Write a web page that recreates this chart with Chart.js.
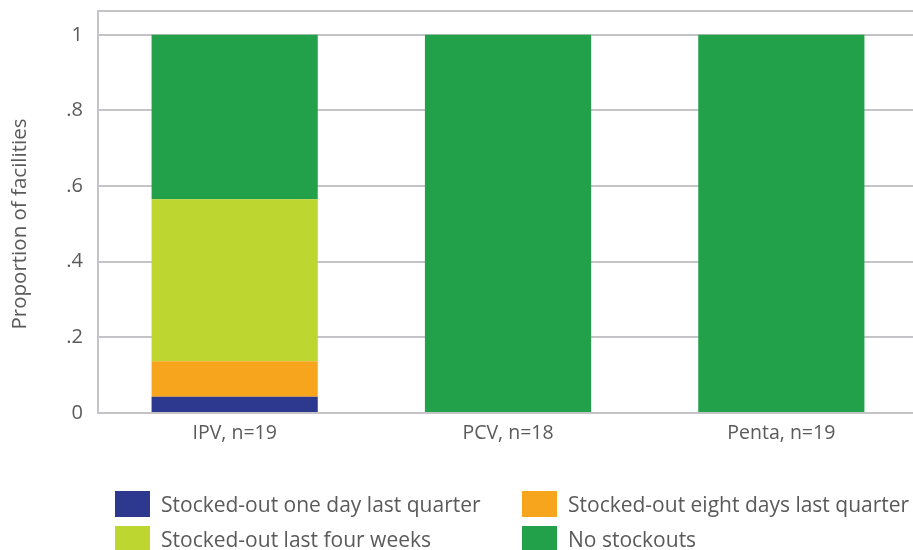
<!DOCTYPE html>
<html><head><meta charset="utf-8">
<script src="https://cdn.jsdelivr.net/npm/chart.js@4"></script>
<style>
html,body{margin:0;padding:0;overflow:hidden;background:#fff;width:913px;height:550px;}
#wrap{position:relative;width:913px;height:550px;overflow:hidden;}
canvas{position:absolute;left:0;top:-16px;}
.lg{position:absolute;display:flex;align-items:center;font-family:'Open Sans',sans-serif;font-weight:400;font-size:21px;color:#5a5a5a;white-space:nowrap;}
.lg span.b{display:inline-block;width:35px;height:26px;margin-right:11px;}
</style></head>
<body><div id="wrap"><canvas id="c" width="918" height="566"></canvas></div>
<script>
const categories = ['IPV, n=19', 'PCV, n=18', 'Penta, n=19'];
const seriesNames = ['Stocked-out one day last quarter', 'Stocked-out eight days last quarter', 'Stocked-out last four weeks', 'No stockouts'];
const oneDayLastQuarter = [0.043, 0, 0];
const eightDaysLastQuarter = [0.094, 0, 0];
const lastFourWeeks = [0.428, 0, 0];
const noStockouts = [0.435, 1, 1];
const yTickValues = [0, 0.2, 0.4, 0.6, 0.8, 1];
const yTickLabels = ['0', '.2', '.4', '.6', '.8', '1'];
const yTitle = 'Proportion of facilities';
const colors = ['#2D398E', '#F7A51D', '#BED630', '#23A14A'];

const seriesValues = [oneDayLastQuarter, eightDaysLastQuarter, lastFourWeeks, noStockouts];
const textColor = '#5a5a5a';
const font = {family: "'Open Sans', sans-serif", size: 19.5, weight: '400'};
const tickFont = {family: "'Open Sans', sans-serif", size: 20, weight: '400'};

const yTitlePlugin = {
  id: 'yTitle',
  afterDraw(chart) {
    const ctx = chart.ctx;
    const y = chart.scales.y;
    ctx.save();
    ctx.fillStyle = textColor;
    ctx.font = "400 20.5px 'Open Sans', sans-serif";
    ctx.textAlign = 'center';
    ctx.textBaseline = 'middle';
    ctx.translate(20, (y.top + y.bottom) / 2 + 12);
    ctx.rotate(-Math.PI / 2);
    ctx.fillText(yTitle, 0, 0);
    ctx.restore();
  }
};

new Chart(document.getElementById('c'), {
  type: 'bar',
  data: {
    labels: categories,
    datasets: seriesNames.map((n, i) => ({
      label: n, data: seriesValues[i], backgroundColor: colors[i], borderWidth: 0,
      barPercentage: 0.608, categoryPercentage: 1
    }))
  },
  plugins: [yTitlePlugin],
  options: {
    responsive: false, animation: false,
    layout: {padding: {top: 0, right: 0, bottom: 0, left: 0}},
    plugins: {legend: {display: false}, tooltip: {enabled: false}},
    scales: {
      x: {
        stacked: true,
        grid: {display: false, drawTicks: false},
        border: {display: true, color: '#C4C4C8', width: 2},
        ticks: {color: textColor, font: font, padding: 9},
        afterFit: s => { s.height = 137; }
      },
      y: {
        stacked: true, min: 0, max: 1.063,
        afterBuildTicks: s => { s.ticks = yTickValues.map(v => ({value: v})).concat([{value: 1.063}]); },
        ticks: {
          color: textColor, font: tickFont, padding: 15,
          callback: (v) => { const i = yTickValues.findIndex(t => Math.abs(t - v) < 1e-6); return i >= 0 ? yTickLabels[i] : ''; }
        },
        grid: {color: '#C4C4C8', lineWidth: 2, drawTicks: false},
        border: {display: true, color: '#C4C4C8', width: 2},
        afterFit: s => { s.width = 98; }
      }
    }
  }
});

const wrap = document.getElementById('wrap');
const legendPos = [[115, 490], [522, 490], [115, 525], [522, 525]];
seriesNames.forEach((n, i) => {
  const d = document.createElement('div');
  d.className = 'lg';
  d.style.left = legendPos[i][0] + 'px';
  d.style.top = legendPos[i][1] + 'px';
  d.innerHTML = '<span class="b" style="background:' + colors[i] + '"></span>';
  d.appendChild(document.createTextNode(n));
  wrap.appendChild(d);
});
</script></body></html>
